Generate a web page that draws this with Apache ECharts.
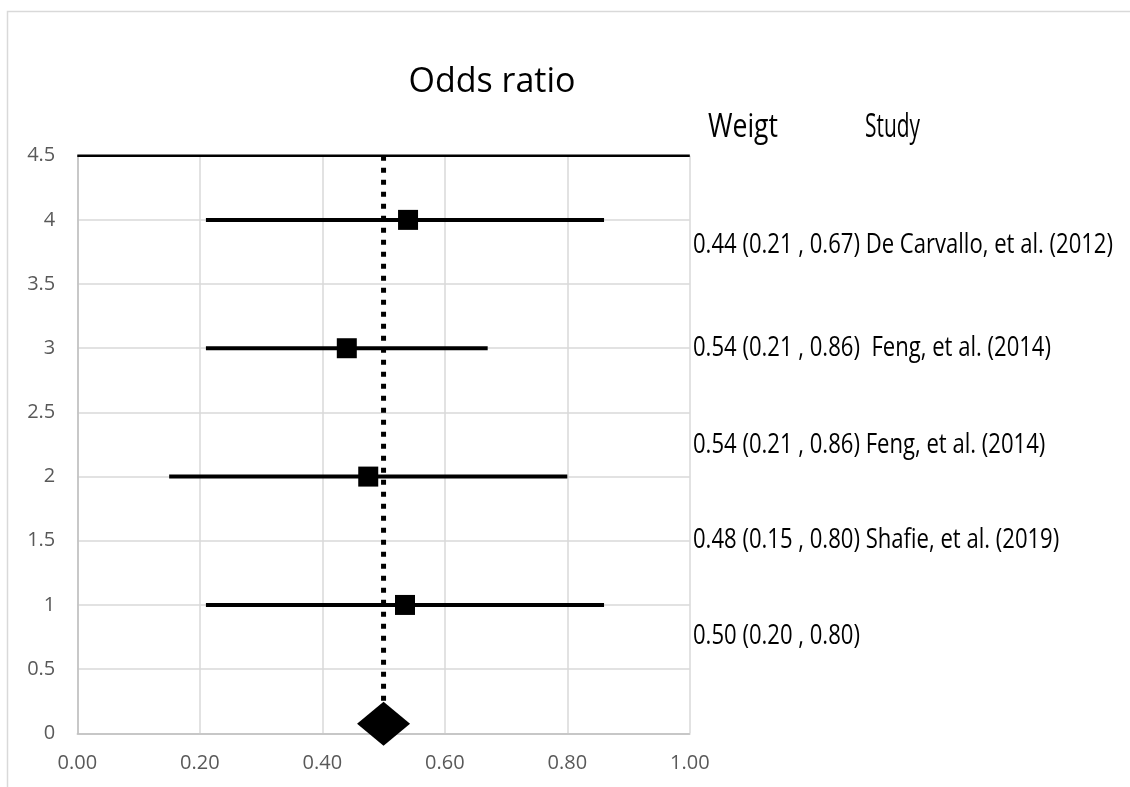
<!DOCTYPE html>
<html>
<head>
<meta charset="utf-8">
<script src="https://cdn.jsdelivr.net/npm/echarts@6/dist/echarts.min.js"></script>
<style>
html,body{margin:0;padding:0;background:#fff;}
#chart{width:1130px;height:787px;}
</style>
</head>
<body>
<div id="chart"></div>
<script>
// ---- data ----
const titleText = 'Odds ratio';
const studyRows = [4, 3, 2, 1];
const oddsRatio = [0.54, 0.44, 0.475, 0.535];
const ciLow = [0.21, 0.21, 0.15, 0.21];
const ciHigh = [0.86, 0.67, 0.80, 0.86];
const pooledPoint = [0.50, 0.075];
const refLineX = [0.5, 0.5];
const refLineY = [4.5, 0];
const topLineX = [0, 1];
const topLineY = [4.5, 4.5];
const headerTexts = ['Weigt', 'Study'];
const rowTexts = [
  '0.44 (0.21 , 0.67) De Carvallo, et al. (2012)',
  '0.54 (0.21 , 0.86)  Feng, et al. (2014)',
  '0.54 (0.21 , 0.86) Feng, et al. (2014)',
  '0.48 (0.15 , 0.80) Shafie, et al. (2019)',
  '0.50 (0.20 , 0.80)'
];

// ---- layout ----
const textFont = '28px "Open Sans"';
const headFont = '32px "Open Sans"';
const cv = document.createElement('canvas').getContext('2d');
cv.font = textFont;
const textScale = 420 / cv.measureText(rowTexts[0]).width;
cv.font = headFont;
const headerWidths = [70, 55];
const headerScale = headerTexts.map((t, i) => headerWidths[i] / cv.measureText(t).width);
const rowTextY = [245, 348, 445, 540, 636];
const headerX = [708, 865];

const chart = echarts.init(document.getElementById('chart'), null, {renderer: 'canvas'});

const series = [];
studyRows.forEach((y, i) => {
  series.push({
    type: 'line', data: [[ciLow[i], y], [ciHigh[i], y]],
    symbol: 'none', clip: false, silent: true, z: 2,
    lineStyle: {color: '#000', width: 4, cap: 'butt', opacity: 1}
  });
});
series.push({
  type: 'line', data: topLineX.map((x, i) => [x, topLineY[i]]),
  symbol: 'none', clip: false, silent: true, z: 2,
  lineStyle: {color: '#000', width: 2.5, opacity: 1}
});
series.push({
  type: 'line', data: refLineX.map((x, i) => [x, refLineY[i]]),
  symbol: 'none', clip: false, silent: true, z: 3,
  lineStyle: {color: '#000', width: 5, type: [5, 7], cap: 'butt', opacity: 1}
});
series.push({
  type: 'scatter', data: studyRows.map((y, i) => [oddsRatio[i], y]),
  symbol: 'rect', symbolSize: 20, clip: false, z: 4,
  itemStyle: {color: '#000', opacity: 1}
});
series.push({
  type: 'scatter', data: [pooledPoint],
  symbol: 'diamond', symbolSize: [53, 44], clip: false, z: 5,
  itemStyle: {color: '#000', opacity: 1}
});

const graphics = [
  {type: 'rect', shape: {x: 7.5, y: 11.5, width: 1300, height: 1000},
   style: {fill: 'none', stroke: '#d9d9d9', lineWidth: 1.5}, silent: true, z: 0},
  {type: 'text', x: 492, y: 82, style: {text: titleText, font: '34px "Open Sans"', fill: '#000',
   textAlign: 'center', textVerticalAlign: 'middle'}}
];
headerTexts.forEach((t, i) => {
  graphics.push({type: 'text', x: headerX[i], y: 128, scaleX: headerScale[i],
    style: {text: t, font: headFont, fill: '#000', textAlign: 'left', textVerticalAlign: 'middle'}});
});
rowTexts.forEach((t, i) => {
  graphics.push({type: 'text', x: 693, y: rowTextY[i], scaleX: textScale,
    style: {text: t, font: textFont, fill: '#000', textAlign: 'left', textVerticalAlign: 'middle'}});
});

chart.setOption({
  backgroundColor: '#fff',
  animation: false,
  grid: {left: 77.3, right: 440.2, top: 155.7, bottom: 53.7, containLabel: false},
  xAxis: {
    type: 'value', min: 0, max: 1, interval: 0.2,
    axisLine: {show: true, onZero: false, lineStyle: {color: '#bfbfbf', width: 1.5}},
    axisTick: {show: false},
    splitLine: {show: true, lineStyle: {color: '#d9d9d9', width: 1.5}},
    axisLabel: {color: '#595959', fontFamily: 'Open Sans', fontSize: 20, margin: 20,
      formatter: v => v.toFixed(2)}
  },
  yAxis: {
    type: 'value', min: 0, max: 4.5, interval: 0.5,
    axisLine: {show: true, lineStyle: {color: '#bfbfbf', width: 1.5}},
    axisTick: {show: false},
    splitLine: {show: true, lineStyle: {color: '#d9d9d9', width: 1.5}},
    axisLabel: {color: '#595959', fontFamily: 'Open Sans', fontSize: 20, margin: 22,
      formatter: v => String(v)}
  },
  series: series,
  graphic: graphics
});
</script>
</body>
</html>
